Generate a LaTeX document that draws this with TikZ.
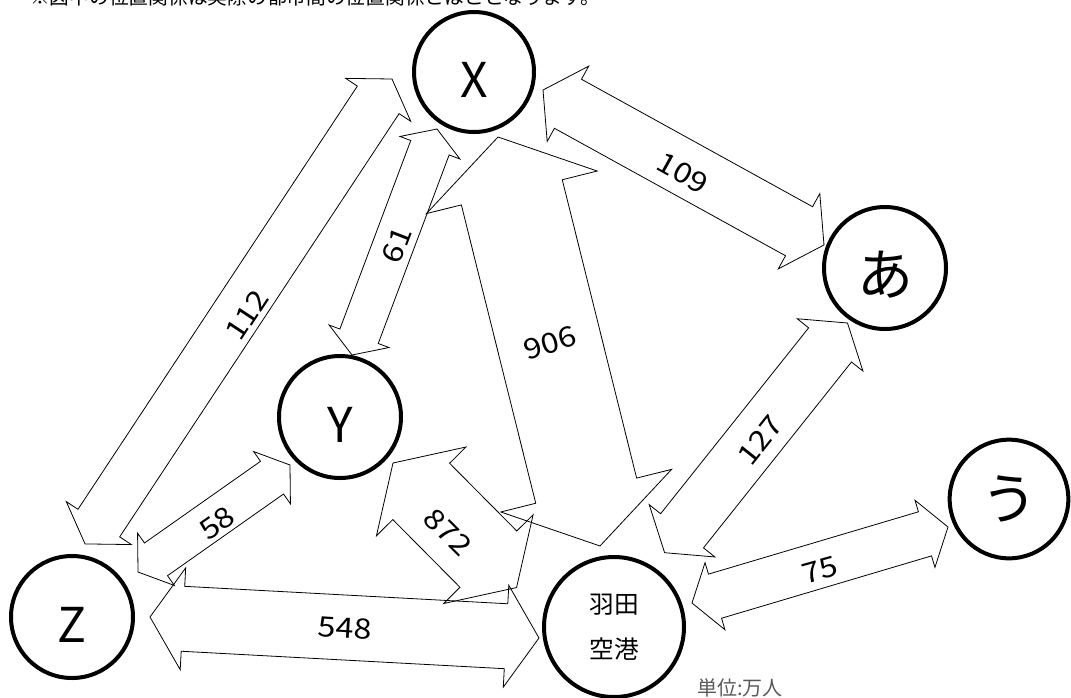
\documentclass[tikz,border=0pt]{standalone}
\usepackage{fontspec}
\setmainfont{Noto Sans CJK JP}
\usetikzlibrary{calc}
\newcommand\lowtxt[2]{\raisebox{0pt}[\dimexpr\height+#1\relax][\depth]{#2}}
\newcommand\widetxt[1]{\scalebox{1.15}[1]{#1}}
\tikzset{
  city/.style={circle, draw=black, line width=3pt, fill=white, inner sep=0pt,
    minimum size=#1, font=\fontsize{36}{40}\selectfont},
  kana/.style={font=\fontsize{42}{46}\selectfont},
  arrowline/.style={draw=black, line width=0.6pt, line join=miter},
  numlabel/.style={font=\fontsize{21}{23}\selectfont, inner sep=0pt},
}
% #1 tip A, #2 tip B, #3 shaft half width, #4 head half width, #5 head length (px)
\newcommand\blockarrow[5]{%
  \path[arrowline] let \p1=(#1), \p2=(#2),
    \n1={atan2(\y2-\y1,\x2-\x1)}, \n2={veclen(\x2-\x1,\y2-\y1)} in
    [shift={(\p1)}, rotate=\n1]
    (0pt,0pt) -- ({#5*0.75pt},{#4*0.75pt}) -- ({#5*0.75pt},{#3*0.75pt})
    -- ({\n2-#5*0.75pt},{#3*0.75pt}) -- ({\n2-#5*0.75pt},{#4*0.75pt})
    -- (\n2,0pt)
    -- ({\n2-#5*0.75pt},{-#4*0.75pt}) -- ({\n2-#5*0.75pt},{-#3*0.75pt})
    -- ({#5*0.75pt},{-#3*0.75pt}) -- ({#5*0.75pt},{-#4*0.75pt}) -- cycle;
}
\begin{document}
\begin{tikzpicture}[x=0.75pt,y=-0.75pt]
\useasboundingbox (0,0) rectangle (1071,697);

% title (cut by the top edge)
\node[anchor=base west, inner sep=0pt, font=\fontsize{14.8}{16}\selectfont] (title) at (30,4.5)
  {※図中の位置関係は実際の都市間の位置関係とはことなります。};

% cities
\node[city=90pt] (X) at (474,72) {\lowtxt{12pt}{X}};
\node[city=91.5pt] (Y) at (340,417) {\lowtxt{12pt}{Y}};
\node[city=91.5pt] (Z) at (72,617) {\lowtxt{12pt}{Z}};
\node[city=91.5pt, kana] (A) at (885,268) {\lowtxt{10pt}{あ}};
\node[city=89pt, kana] (U) at (1009,499) {う};
\node[city=105pt, align=center, font=\fontsize{18.5}{34}\selectfont] (H) at (614,627) {羽田\\空港};

% arrow tips
\coordinate (t112a) at (392,79);    \coordinate (t112b) at (85,544);
\coordinate (t61a)  at (437,129);   \coordinate (t61b)  at (352,355);
\coordinate (t109a) at (543,90);    \coordinate (t109b) at (824,245);
\coordinate (t906a) at (498,137);   \coordinate (t906b) at (600,546);
\coordinate (t58a)  at (290,465);   \coordinate (t58b)  at (138,572);
\coordinate (t872a) at (393,463);   \coordinate (t872b) at (517,588);
\coordinate (t548a) at (150,617);   \coordinate (t548b) at (539,638);
\coordinate (t127a) at (847.5,323); \coordinate (t127b) at (664.6,552.7);
\coordinate (t75a)  at (692,603);   \coordinate (t75b)  at (948,527);

% double block arrows
\blockarrow{t112a}{t112b}{25}{39}{25}
\blockarrow{t61a}{t61b}{20.5}{32}{20}
\blockarrow{t109a}{t109b}{28}{43}{28.5}
\blockarrow{t906a}{t906b}{52}{88}{57}
\blockarrow{t58a}{t58b}{20}{32}{22}
\blockarrow{t872a}{t872b}{40}{63}{40}
\blockarrow{t548a}{t548b}{32.5}{51}{33}
\blockarrow{t127a}{t127b}{27.4}{42}{28}
\blockarrow{t75a}{t75b}{23}{35}{24}

% labels
\node[numlabel, rotate=56.6] (l112) at (247,315) {\widetxt{112}};
\node[numlabel, rotate=69]   (l61)  at (397,245) {\widetxt{61}};
\node[numlabel, rotate=-29]  (l109) at (683,173) {\widetxt{109}};
\node[numlabel, rotate=17]   (l906) at (550,343) {\widetxt{906}};
\node[numlabel, rotate=35]   (l58)  at (217,523) {\widetxt{58}};
\node[numlabel, rotate=-45]  (l872) at (448,532) {\widetxt{872}};
\node[numlabel, rotate=-3.5] (l548) at (345,628) {\widetxt{548}};
\node[numlabel, rotate=51.5] (l127) at (760,440) {\widetxt{127}};
\node[numlabel, rotate=15.5] (l75)  at (820,570) {\widetxt{75}};

% unit
\node[anchor=west, inner sep=0pt, text=black!65, font=\fontsize{15}{17}\selectfont] (unit) at (697,688) {単位:万人};
\end{tikzpicture}
\end{document}
